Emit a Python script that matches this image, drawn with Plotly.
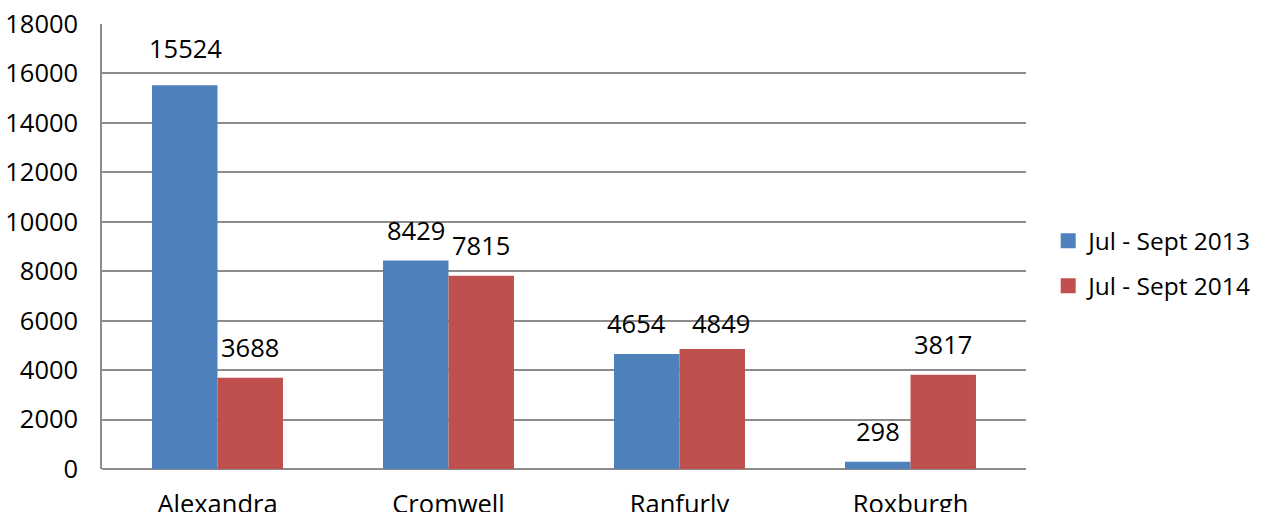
import plotly.graph_objects as go

# Visitor counts by town for two quarters
towns = ["Alexandra", "Cromwell", "Ranfurly", "Roxburgh"]
q2013 = [15524, 8429, 4654, 298]
q2014 = [3688, 7815, 4849, 3817]
series_names = ["Jul - Sept 2013", "Jul - Sept 2014"]

# pixel lift of each value label above its bar, and sideways nudge to keep neighbours apart
lift2013 = [18, 12, 12, 12]
lift2014 = [12, 12, 7, 12]
nudge2013 = [0, 0, -11, 0]
nudge2014 = [0, 0, 9, 0]

BLUE = "#4F81BD"
RED = "#C0504D"
GRID = "#8C8C8C"
FONT = "Open Sans"
FS = 25.5

fig = go.Figure()
for name, vals, col in [(series_names[0], q2013, BLUE), (series_names[1], q2014, RED)]:
    fig.add_trace(go.Bar(x=towns, y=vals, name=name, marker=dict(color=col, line=dict(width=0)),
                         showlegend=False))
    # legend swatch
    fig.add_trace(go.Scatter(x=[None], y=[None], mode="markers", name=name, legendgroup=name,
                             marker=dict(symbol="square", size=15, color=col)))

annotations = []
for vals, lifts, nudges, dx in [(q2013, lift2013, nudge2013, -32.5), (q2014, lift2014, nudge2014, 32.5)]:
    for t, v, s, n in zip(towns, vals, lifts, nudges):
        annotations.append(dict(x=t, y=v, xref="x", yref="y", text=str(v), showarrow=False,
                                xshift=dx + n, yshift=s, yanchor="bottom",
                                font=dict(family=FONT, size=FS, color="#000000")))

fig.update_layout(
    width=1263, height=512,
    margin=dict(l=102, r=237, t=24, b=43, autoexpand=False),
    paper_bgcolor="white", plot_bgcolor="white",
    barmode="group", bargap=0.433, bargroupgap=0,
    font=dict(family=FONT, size=FS, color="#000000"),
    annotations=annotations,
    legend=dict(x=1.024, xanchor="left", y=0.462, yanchor="middle",
                font=dict(family=FONT, size=24.5), tracegroupgap=10, itemclick=False),
    xaxis=dict(showgrid=False, showline=False, ticks="", ticklabelstandoff=17, automargin=False,
               tickfont=dict(family=FONT, size=FS)),
    yaxis=dict(range=[0, 18000], dtick=2000, showgrid=True, gridcolor=GRID, gridwidth=1.5,
               showline=True, linecolor=GRID, linewidth=1.5, zeroline=True, zerolinecolor=GRID,
               zerolinewidth=1.5, ticks="", ticklabelstandoff=17, tickformat="d", automargin=False,
               tickfont=dict(family=FONT, size=FS)),
)

fig.write_html("out.html")
